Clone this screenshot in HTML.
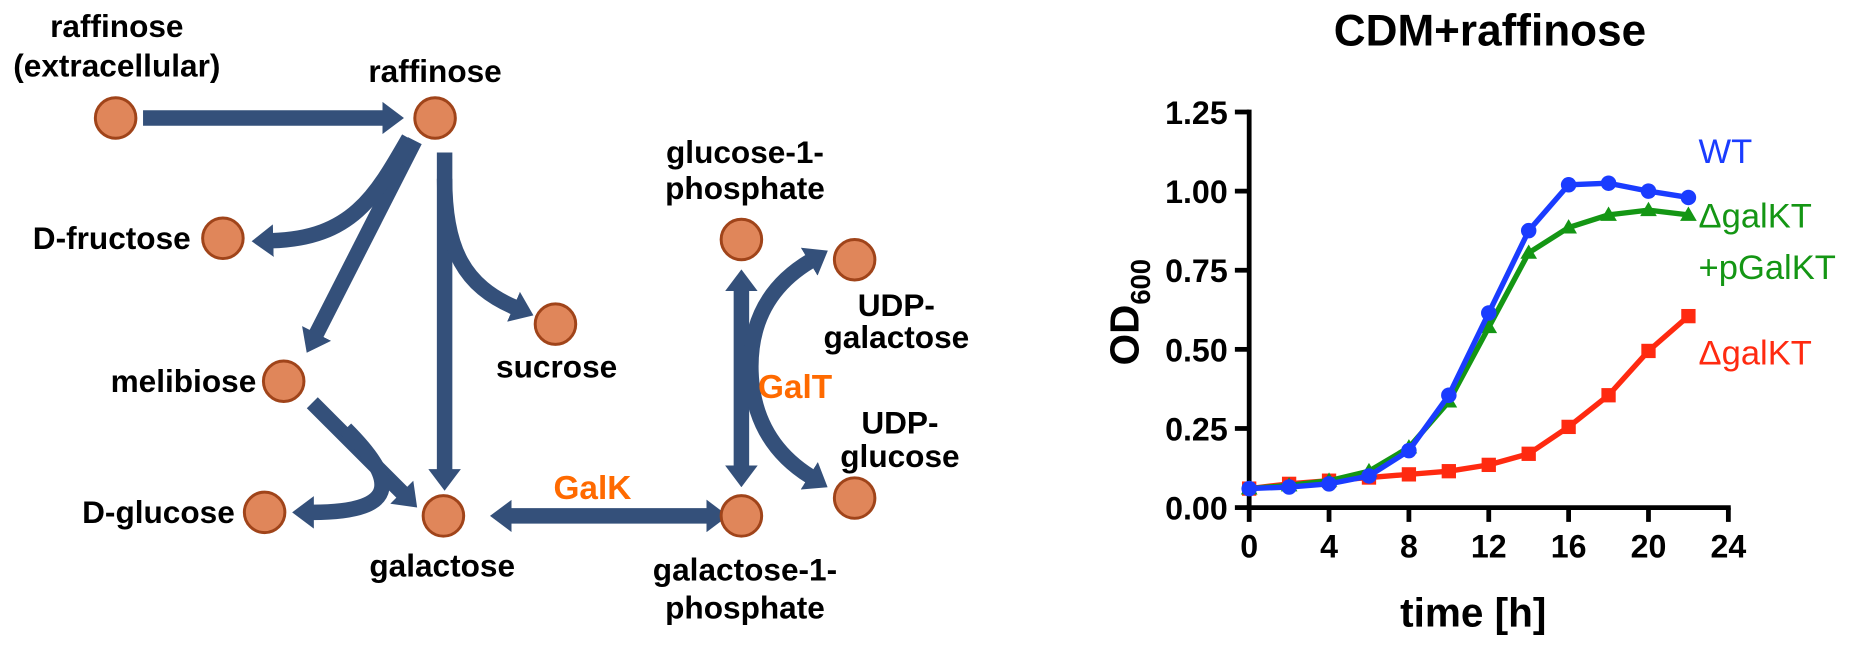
<!DOCTYPE html>
<html><head><meta charset="utf-8"><style>
html,body{margin:0;padding:0;background:#fff;}
svg{display:block;font-family:"Liberation Sans",Arial,sans-serif;}
</style></head><body>
<svg id="fig" width="1869" height="647" viewBox="0 0 1568 543" preserveAspectRatio="none" xmlns="http://www.w3.org/2000/svg">
<defs>
<marker id="ah" viewBox="0 0 14 21" refX="1" refY="10.5" markerWidth="1.4" markerHeight="2.1" orient="auto-start-reverse" markerUnits="strokeWidth">
<path d="M0,0 L14,10.5 L0,21 z" fill="#34507A"/>
</marker>
</defs>
<g fill="none" stroke="#34507A" stroke-width="13">
<path d="M120,99 L322,99" marker-end="url(#ah)"/>
<path d="M348,118 L265,281" marker-end="url(#ah)"/>
<path d="M343,116 C315,165 295,200 228,202" marker-end="url(#ah)"/>
<path d="M373,128 L373,395" marker-end="url(#ah)"/>
<path d="M373,150 C373,210 390,240 432,258" marker-end="url(#ah)"/>
<path d="M262,338 L338,414" marker-end="url(#ah)"/>
<path d="M290,360 C330,400 340,430 262,430" marker-end="url(#ah)"/>
<path d="M428,433 L594,433" marker-start="url(#ah)" marker-end="url(#ah)"/>
<path d="M622,243 L622,392" marker-start="url(#ah)" marker-end="url(#ah)"/>
<path d="M680,219 Q628,250 630,312 Q632,370 680,400" marker-start="url(#ah)" marker-end="url(#ah)"/>
</g>
<g fill="#E0865A" stroke="#A0441A" stroke-width="2.5">
<circle cx="97" cy="99" r="17"/>
<circle cx="365" cy="99" r="17"/>
<circle cx="187" cy="200" r="17"/>
<circle cx="238" cy="320" r="17"/>
<circle cx="222" cy="430" r="17"/>
<circle cx="372" cy="433" r="17"/>
<circle cx="466" cy="272" r="17"/>
<circle cx="622" cy="201" r="17"/>
<circle cx="717" cy="218" r="17"/>
<circle cx="622" cy="433" r="17"/>
<circle cx="717" cy="418" r="17"/>
</g>
<g font-weight="bold" font-size="26.5" fill="#000" text-anchor="middle">
<text x="98" y="31">raffinose</text>
<text x="98" y="64">(extracellular)</text>
<text x="365" y="69">raffinose</text>
<text x="160" y="209" text-anchor="end">D-fructose</text>
<text x="215" y="329" text-anchor="end">melibiose</text>
<text x="197" y="439" text-anchor="end">D-glucose</text>
<text x="371" y="484">galactose</text>
<text x="467" y="317">sucrose</text>
<text x="625" y="137">glucose-1-</text>
<text x="625" y="167">phosphate</text>
<text x="752" y="265">UDP-</text>
<text x="752" y="292">galactose</text>
<text x="755" y="364">UDP-</text>
<text x="755" y="392">glucose</text>
<text x="625" y="487">galactose-1-</text>
<text x="625" y="519">phosphate</text>
<text x="497" y="419" fill="#FF6A00" font-size="28">GalK</text>
<text x="667" y="334" fill="#FF6A00" font-size="28">GalT</text>
</g>
<g id="chart"></g>
</svg>
<script>
const times = [0,2,4,6,8,10,12,14,16,18,20,22];
const wtValues = [0.06,0.065,0.075,0.10,0.18,0.355,0.615,0.875,1.02,1.025,1.0,0.98];
const compValues = [0.06,0.07,0.085,0.115,0.19,0.335,0.57,0.805,0.885,0.925,0.94,0.925];
const mutValues = [0.06,0.075,0.085,0.095,0.105,0.115,0.135,0.17,0.255,0.355,0.495,0.605];
const xTicks = [0,4,8,12,16,20,24];
const yTicks = [0,0.25,0.5,0.75,1.0,1.25];
const yTickLabels = ["0.00","0.25","0.50","0.75","1.00","1.25"];

const NS = "http://www.w3.org/2000/svg";
const g = document.getElementById('chart');
const X0 = 1048, X1 = 1450, Y0 = 426, Y1 = 94;
const xs = v => X0 + (v/24)*(X1-X0);
const ys = v => Y0 - (v/1.25)*(Y0-Y1);
function el(tag, attrs, parent){ const e=document.createElementNS(NS,tag); for(const k in attrs) e.setAttribute(k,attrs[k]); (parent||g).appendChild(e); return e; }

const title = el('text',{x:1250,y:38,'text-anchor':'middle','font-size':37,'font-weight':'bold'});


title.textContent='CDM+raffinose';

const yAxis = el('line',{x1:X0,y1:Y1-2,x2:X0,y2:Y0+2,stroke:'#000','stroke-width':4});


const xAxis = el('line',{x1:X0-2,y1:Y0,x2:X1+2,y2:Y0,stroke:'#000','stroke-width':4});



yTicks.forEach((v,i)=>{
  const t = el('line',{x1:X0-12,y1:ys(v),x2:X0,y2:ys(v),stroke:'#000','stroke-width':4});
  
  
  const l = el('text',{x:X0-18,y:ys(v)+10,'text-anchor':'end','font-size':27,'font-weight':'bold'});
  
  
  l.textContent = yTickLabels[i];
});
xTicks.forEach(v=>{
  const t = el('line',{x1:xs(v),y1:Y0,x2:xs(v),y2:Y0+12,stroke:'#000','stroke-width':4});
  
  
  const l = el('text',{x:xs(v),y:Y0+42,'text-anchor':'middle','font-size':27,'font-weight':'bold'});
  
  
  l.textContent = v;
});

const xt = el('text',{x:1236,y:526,'text-anchor':'middle','font-size':34,'font-weight':'bold'});


xt.textContent='time [h]';
const yt = el('text',{x:0,y:0,'text-anchor':'middle','font-size':34,'font-weight':'bold',transform:'translate(955,262) rotate(-90)'});


yt.innerHTML='OD<tspan font-size="23" dy="10">600</tspan>';

function series(vals, color, shape, name){
  const pl = el('polyline',{points:times.map((t,i)=>xs(t)+','+ys(vals[i])).join(' '),fill:'none',stroke:color,'stroke-width':4.5,'stroke-linejoin':'round'});
  
  
  times.forEach((t,i)=>{
    const cx=xs(t), cy=ys(vals[i]); let m;
    if(shape==='circle') m = el('circle',{cx:cx,cy:cy,r:6.5,fill:color});
    else if(shape==='square') m = el('rect',{x:cx-6,y:cy-6,width:12,height:12,fill:color});
    else m = el('polygon',{points:`${cx},${cy-7} ${cx+7},${cy+5} ${cx-7},${cy+5}`,fill:color});
    
    
  });
}
series(mutValues,'#FF2A10','square','galkt-mutant');
series(compValues,'#149614','triangle','galkt-complemented');
series(wtValues,'#1A3CFF','circle','wild-type');

const legend = [
  ['WT','#1A3CFF',137,'legend-wt'],
  ['ΔgalKT','#149614',191,'legend-galkt-complemented'],
  ['+pGalKT','#149614',234,'legend-pgalkt'],
  ['ΔgalKT','#FF2A10',306,'legend-galkt-mutant']
];
legend.forEach(d=>{
  const t = el('text',{x:1425,y:d[2],'font-size':29,fill:d[1]});
  
  
  t.textContent = d[0];
});
</script>
</body></html>
